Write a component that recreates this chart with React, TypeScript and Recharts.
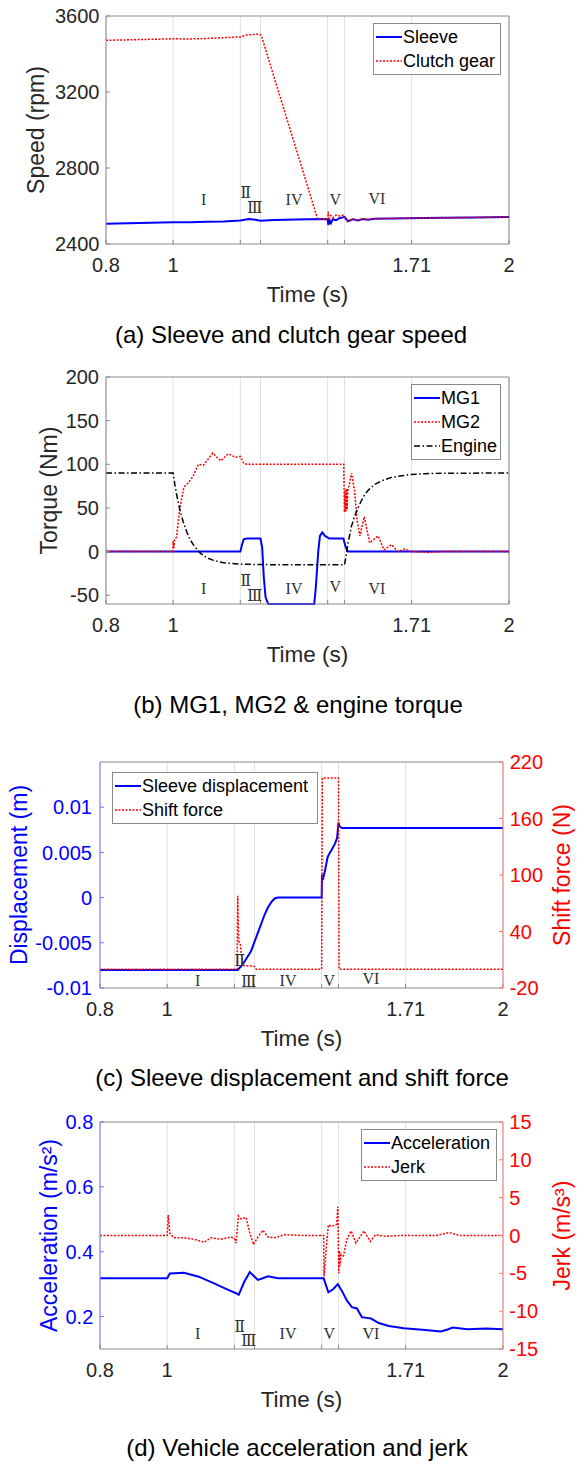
import React from 'react'
import { LineChart, Line, XAxis, YAxis, CartesianGrid, ReferenceLine, ReferenceDot, Legend } from 'recharts'

const timeTicks = [0.8, 1, 1.2, 1.26, 1.46, 1.51, 1.71, 2]
const timeLabels = [0.8, 1, 1.71, 2]

const phaseNames = ['I', 'Ⅱ', 'Ⅲ', 'IV', 'V', 'VI']
const phaseTimes = [1.091, 1.216, 1.243, 1.36, 1.483, 1.607]

// (a) speed, rpm
const sleeveSpeed = [
  [0.8, 2507], [0.9, 2511], [1.0, 2514], [1.05, 2514], [1.1, 2517], [1.15, 2519], [1.2, 2524], [1.225, 2531],
  [1.245, 2528], [1.26, 2523], [1.3, 2526], [1.4, 2530], [1.46, 2532], [1.462, 2500], [1.466, 2525], [1.47, 2510],
  [1.475, 2530], [1.485, 2525], [1.495, 2536], [1.505, 2540], [1.51, 2543], [1.52, 2520], [1.535, 2530], [1.55, 2524],
  [1.565, 2532], [1.58, 2528], [1.6, 2533], [1.65, 2534], [1.7, 2536], [1.8, 2538], [1.9, 2540], [2, 2542],
]
const clutchSpeed = [
  [0.8, 3472], [0.9, 3476], [1.0, 3480], [1.05, 3479], [1.1, 3482], [1.15, 3486], [1.2, 3490], [1.22, 3500],
  [1.255, 3505], [1.262, 3500], [1.43, 2532], [1.46, 2532], [1.462, 2570], [1.464, 2535], [1.47, 2550], [1.475, 2538],
  [1.485, 2552], [1.495, 2548], [1.505, 2552], [1.51, 2545], [1.52, 2522], [1.535, 2532], [1.55, 2525], [1.565, 2533],
  [1.58, 2529], [1.6, 2534], [1.65, 2534], [1.7, 2536], [1.8, 2538], [1.9, 2540], [2, 2542],
]
const speedPhaseY = [2637, 2674, 2595, 2637, 2637, 2640]

// (b) torque, Nm
const mg1Torque = [
  [0.8, 0], [1.2, 0], [1.205, 8], [1.21, 14], [1.22, 15], [1.26, 15], [1.265, 5], [1.27, -30], [1.275, -52],
  [1.283, -60], [1.42, -60], [1.425, -40], [1.432, 0], [1.437, 18], [1.444, 22], [1.452, 18], [1.465, 15],
  [1.507, 15], [1.513, 6], [1.52, 0], [2, 0],
]
const mg2Torque = [
  [0.8, 0], [0.999, 0], [1.0, 12], [1.002, 4], [1.004, 13], [1.01, 17], [1.02, 50], [1.032, 74], [1.043, 78],
  [1.059, 86], [1.075, 100], [1.09, 99], [1.1, 104], [1.118, 113], [1.13, 108], [1.142, 104], [1.164, 112],
  [1.186, 108], [1.2, 109], [1.21, 101], [1.22, 100], [1.508, 100], [1.51, 45], [1.512, 70], [1.514, 46],
  [1.516, 72], [1.518, 48], [1.52, 70], [1.525, 78], [1.531, 90], [1.54, 70], [1.548, 35], [1.556, 18],
  [1.569, 40], [1.585, 10], [1.61, 18], [1.628, 2], [1.65, 8], [1.67, 0], [1.69, 3], [1.71, 0], [1.76, -1],
  [1.8, 0], [2, 0],
]
const engineTorque = [
  [0.8, 90], [1.0, 90], [1.005, 77], [1.01, 66], [1.02, 48], [1.03, 34], [1.04, 23], [1.05, 14], [1.06, 8],
  [1.07, 3], [1.08, -1.5], [1.1, -7], [1.12, -10], [1.15, -12.8], [1.2, -14.4], [1.3, -15], [1.51, -15],
  [1.515, -5], [1.52, 8], [1.53, 28], [1.54, 40], [1.55, 50], [1.56, 58], [1.57, 65], [1.58, 70], [1.6, 77],
  [1.62, 81], [1.65, 85], [1.7, 88], [1.75, 89.3], [1.8, 89.8], [2, 90],
]
const torquePhaseY = [-41.8, -32.4, -49.5, -41.8, -40, -41.8]

// (c) displacement, m / shift force, N
const sleeveDisp = [
  [0.8, -0.008], [1.21, -0.008], [1.22, -0.0076], [1.23, -0.0071], [1.25, -0.0059], [1.27, -0.0039],
  [1.29, -0.0019], [1.3, -0.0011], [1.31, -0.0005], [1.32, -0.0001], [1.33, 0], [1.46, 0], [1.461, 0.0025],
  [1.465, 0.0022], [1.47, 0.003], [1.478, 0.0045], [1.485, 0.005], [1.49, 0.0053], [1.5, 0.006], [1.506, 0.0066],
  [1.51, 0.0083], [1.513, 0.0079], [1.52, 0.0077], [2, 0.0077],
]
const shiftForce = [
  [0.8, 0], [1.208, 0], [1.21, 78], [1.213, 30], [1.218, 26], [1.222, 12], [1.228, 4], [1.26, 3], [1.265, 0],
  [1.46, 0], [1.462, 203], [1.51, 203], [1.512, 0], [2, 0],
]
const dispPhaseY = [-0.0091, -0.0069, -0.0093, -0.0091, -0.0091, -0.0089]

// (d) acceleration, m/s2 / jerk, m/s3
const accel = [
  [0.8, 0.318], [1.0, 0.318], [1.008, 0.333], [1.05, 0.335], [1.094, 0.323], [1.138, 0.303], [1.18, 0.283],
  [1.205, 0.272], [1.213, 0.267], [1.23, 0.308], [1.246, 0.337], [1.258, 0.325], [1.27, 0.313], [1.285, 0.318],
  [1.3, 0.324], [1.33, 0.318], [1.466, 0.318], [1.48, 0.275], [1.495, 0.285], [1.508, 0.3], [1.52, 0.28],
  [1.535, 0.25], [1.55, 0.229], [1.565, 0.225], [1.58, 0.198], [1.595, 0.196], [1.607, 0.194], [1.63, 0.18],
  [1.66, 0.171], [1.705, 0.164], [1.76, 0.159], [1.815, 0.154], [1.835, 0.16], [1.85, 0.166], [1.894, 0.161],
  [1.95, 0.163], [2, 0.161],
]
const jerk = [
  [0.8, 0], [1.0, 0], [1.003, 2.7], [1.008, 0.3], [1.02, -0.3], [1.05, -0.3], [1.08, -0.5], [1.11, -0.9],
  [1.13, -0.3], [1.16, -0.5], [1.19, -0.2], [1.2, -0.4], [1.205, -1.0], [1.212, 2.6], [1.22, 2.2], [1.235, 2.4],
  [1.245, 0.5], [1.257, -1.2], [1.27, -0.2], [1.285, 0.7], [1.3, -0.2], [1.32, -0.3], [1.35, 0.1], [1.4, 0],
  [1.466, 0], [1.467, -5.4], [1.475, -1], [1.48, 1.4], [1.49, 1.2], [1.505, 1.5], [1.508, 3.8], [1.511, -5.0],
  [1.513, -2], [1.515, -4], [1.518, -2.5], [1.525, -2.7], [1.535, -0.5], [1.548, 0.6], [1.562, -1], [1.586, 0.6],
  [1.605, -0.8], [1.62, 0.1], [1.65, -0.1], [1.7, 0], [1.8, 0], [1.84, 0.4], [1.87, 0], [2, 0],
]
const accelPhaseY = [0.149, 0.171, 0.128, 0.147, 0.149, 0.149]

const font = '"Liberation Sans", Arial, sans-serif'
const ink = '#262626'
const frame = '#8a8a8a'
const blue = '#0000ff'
const red = '#ff0000'
const blueAxis = '#7373ff'
const redAxis = '#ff7373'
const dotted = '2 1.5'
const dashDot = '6 2.5 1.5 2.5'

const pts = (a: number[][]) => a.map(([t, v]) => ({ t, v }))
const fmtTime = (v: number) => (timeLabels.includes(v) ? String(v) : '')

type Item = { name: string; color: string; dash?: string; width: number }

const legendBox = (items: Item[], boxWidth: number) => () => (
  <div style={{ width: boxWidth, boxSizing: 'border-box', border: `1px solid ${frame}`, background: '#fff', padding: '1px 0 1px 2px', fontFamily: font }}>
    {items.map(it => (
      <div key={it.name} style={{ display: 'flex', alignItems: 'center', height: 24 }}>
        <svg width={26} height={10} style={{ flexShrink: 0 }}>
          <line x1={0} y1={5} x2={26} y2={5} stroke={it.color} strokeWidth={it.width} strokeDasharray={it.dash} />
        </svg>
        <span style={{ fontSize: 18, color: '#000', marginLeft: 1, whiteSpace: 'nowrap' }}>{it.name}</span>
      </div>
    ))}
  </div>
)

function timeAxis(h: number) {
  return (
    <XAxis dataKey="t" type="number" domain={[0.8, 2]} ticks={timeTicks} interval={0} allowDataOverflow
      tickFormatter={fmtTime} height={h} tickSize={-4} tickMargin={18} stroke={frame}
      tick={{ fill: ink, fontSize: 20, fontFamily: font }}
      label={{ value: 'Time (s)', position: 'insideBottom', offset: h - 57.5, fill: ink, fontSize: 22.5, fontFamily: font }} />
  )
}

function phaseMarks(ys: number[], yAxisId: string) {
  return phaseNames.map((n, i) => (
    <ReferenceDot key={n} x={phaseTimes[i]} y={ys[i]} yAxisId={yAxisId} r={0} stroke="none" fill="none"
      label={{ value: n, position: 'center', fill: '#333', fontSize: 16, fontFamily: '"Liberation Serif", "DejaVu Serif", serif' }} />
  ))
}

const yLabel = (value: string, color: string, offset: number, side: 'insideLeft' | 'insideRight') => ({
  value, angle: -90, position: side, offset, fill: color, fontSize: 23, fontFamily: font, style: { textAnchor: 'middle' },
})

const legendPos = { layout: 'vertical' as const, align: 'center' as const, verticalAlign: 'middle' as const }

const W = 577
const H = 320

function Caption({ text, x, y }: { text: string; x: number; y: number }) {
  return (
    <div style={{ position: 'absolute', left: x, top: y, transform: 'translate(-50%, -50%)', whiteSpace: 'nowrap', fontSize: 24, color: '#000', fontFamily: font }}>
      {text}
    </div>
  )
}

export default function App() {
  return (
    <div style={{ position: 'absolute', left: 0, top: 0, width: W, height: 1462, background: '#fff', fontFamily: font }}>
      {/* (a) */}
      <div style={{ position: 'absolute', left: 0, top: 0 }}>
        <LineChart width={W} height={H} margin={{ top: 16, right: W - 509, left: 0, bottom: 0 }}>
          <CartesianGrid horizontal={false} stroke="#e0e0e0" />
          {timeAxis(H - 16 - 228)}
          <YAxis yAxisId="l" type="number" domain={[2400, 3600]} ticks={[2400, 2800, 3200, 3600]} interval={0} width={106}
            tickSize={-4} tickMargin={10.5} stroke={frame} tick={{ fill: ink, fontSize: 20, fontFamily: font }}
            label={yLabel('Speed (rpm)', ink, 36, 'insideLeft')} />
          <ReferenceLine yAxisId="l" y={3600} stroke={frame} />
          <ReferenceLine yAxisId="l" x={2} stroke={frame} />
          <Line yAxisId="l" data={pts(sleeveSpeed)} dataKey="v" name="Sleeve" stroke={blue} strokeWidth={2} dot={false} isAnimationActive={false} />
          <Line yAxisId="l" data={pts(clutchSpeed)} dataKey="v" name="Clutch gear" stroke={red} strokeWidth={1.5} strokeDasharray={dotted} dot={false} isAnimationActive={false} />
          {phaseMarks(speedPhaseY, 'l')}
          <Legend {...legendPos} wrapperStyle={{ left: 373, top: 23, width: 'auto' }}
            content={legendBox([
              { name: 'Sleeve', color: blue, width: 2 },
              { name: 'Clutch gear', color: red, width: 1.5, dash: dotted },
            ], 128)} />
        </LineChart>
      </div>
      <Caption text="(a) Sleeve and clutch gear speed" x={291} y={335} />

      {/* (b) */}
      <div style={{ position: 'absolute', left: 0, top: 361 }}>
        <LineChart width={W} height={H} margin={{ top: 16, right: W - 509, left: 0, bottom: 0 }}>
          <CartesianGrid horizontal={false} stroke="#e0e0e0" />
          {timeAxis(H - 16 - 227)}
          <YAxis yAxisId="l" type="number" domain={[-60, 200]} ticks={[-50, 0, 50, 100, 150, 200]} interval={0} width={106}
            tickSize={-4} tickMargin={11} stroke={frame} tick={{ fill: ink, fontSize: 20, fontFamily: font }}
            label={yLabel('Torque (Nm)', ink, 48.5, 'insideLeft')} />
          <ReferenceLine yAxisId="l" y={200} stroke={frame} />
          <ReferenceLine yAxisId="l" x={2} stroke={frame} />
          <Line yAxisId="l" data={pts(mg1Torque)} dataKey="v" name="MG1" stroke={blue} strokeWidth={2} dot={false} isAnimationActive={false} />
          <Line yAxisId="l" data={pts(mg2Torque)} dataKey="v" name="MG2" stroke={red} strokeWidth={1.5} strokeDasharray={dotted} dot={false} isAnimationActive={false} />
          <Line yAxisId="l" data={pts(engineTorque)} dataKey="v" name="Engine" stroke="#000" strokeWidth={1.5} strokeDasharray={dashDot} dot={false} isAnimationActive={false} />
          {phaseMarks(torquePhaseY, 'l')}
          <Legend {...legendPos} wrapperStyle={{ left: 411, top: 23, width: 'auto' }}
            content={legendBox([
              { name: 'MG1', color: blue, width: 2 },
              { name: 'MG2', color: red, width: 1.5, dash: dotted },
              { name: 'Engine', color: '#000', width: 1.5, dash: dashDot },
            ], 90)} />
        </LineChart>
      </div>
      <Caption text="(b) MG1, MG2 & engine torque" x={298} y={705} />

      {/* (c) */}
      <div style={{ position: 'absolute', left: 0, top: 746 }}>
        <LineChart width={W} height={H} margin={{ top: 16, right: 0, left: 0, bottom: 0 }}>
          <CartesianGrid horizontal={false} stroke="#e0e0e0" yAxisId="l" />
          {timeAxis(H - 16 - 226)}
          <YAxis yAxisId="l" type="number" domain={[-0.01, 0.015]} ticks={[-0.01, -0.005, 0, 0.005, 0.01]} interval={0} width={100}
            tickSize={-4} tickMargin={12} stroke={blueAxis} tick={{ fill: blue, fontSize: 20, fontFamily: font }}
            label={yLabel('Displacement (m)', blue, 18.5, 'insideLeft')} />
          <YAxis yAxisId="r" orientation="right" type="number" domain={[-20, 220]} ticks={[-20, 40, 100, 160, 220]} interval={0} width={W - 503}
            tickSize={-4} tickMargin={10.7} stroke={redAxis} tick={{ fill: red, fontSize: 20, fontFamily: font }}
            label={yLabel('Shift force (N)', red, 15.3, 'insideRight')} />
          <ReferenceLine yAxisId="l" y={0.015} stroke={frame} />
          <Line yAxisId="l" data={pts(sleeveDisp)} dataKey="v" name="Sleeve displacement" stroke={blue} strokeWidth={2} dot={false} isAnimationActive={false} />
          <Line yAxisId="r" data={pts(shiftForce)} dataKey="v" name="Shift force" stroke={red} strokeWidth={1.5} strokeDasharray={dotted} dot={false} isAnimationActive={false} />
          {phaseMarks(dispPhaseY, 'l')}
          <Legend {...legendPos} wrapperStyle={{ left: 112, top: 26, width: 'auto' }}
            content={legendBox([
              { name: 'Sleeve displacement', color: blue, width: 2 },
              { name: 'Shift force', color: red, width: 1.5, dash: dotted },
            ], 206)} />
        </LineChart>
      </div>
      <Caption text="(c) Sleeve displacement and shift force" x={302} y={1078} />

      {/* (d) */}
      <div style={{ position: 'absolute', left: 0, top: 1106 }}>
        <LineChart width={W} height={H} margin={{ top: 16, right: 0, left: 0, bottom: 0 }}>
          <CartesianGrid horizontal={false} stroke="#e0e0e0" yAxisId="l" />
          {timeAxis(H - 16 - 227)}
          <YAxis yAxisId="l" type="number" domain={[0.1, 0.8]} ticks={[0.2, 0.4, 0.6, 0.8]} interval={0} width={100}
            tickSize={-4} tickMargin={10.7} stroke={blueAxis} tick={{ fill: blue, fontSize: 20, fontFamily: font }}
            label={yLabel('Acceleration (m/s²)', blue, 48.5, 'insideLeft')} />
          <YAxis yAxisId="r" orientation="right" type="number" domain={[-15, 15]} ticks={[-15, -10, -5, 0, 5, 10, 15]} interval={0} width={W - 503}
            tickSize={-4} tickMargin={10.3} stroke={redAxis} tick={{ fill: red, fontSize: 20, fontFamily: font }}
            label={yLabel('Jerk (m/s³)', red, 15.3, 'insideRight')} />
          <ReferenceLine yAxisId="l" y={0.8} stroke={frame} />
          <Line yAxisId="l" data={pts(accel)} dataKey="v" name="Acceleration" stroke={blue} strokeWidth={2} dot={false} isAnimationActive={false} />
          <Line yAxisId="r" data={pts(jerk)} dataKey="v" name="Jerk" stroke={red} strokeWidth={1.5} strokeDasharray={dotted} dot={false} isAnimationActive={false} />
          {phaseMarks(accelPhaseY, 'l')}
          <Legend {...legendPos} wrapperStyle={{ left: 361, top: 23, width: 'auto' }}
            content={legendBox([
              { name: 'Acceleration', color: blue, width: 2 },
              { name: 'Jerk', color: red, width: 1.5, dash: dotted },
            ], 136)} />
        </LineChart>
      </div>
      <Caption text="(d) Vehicle acceleration and jerk" x={297} y={1448} />
    </div>
  )
}
